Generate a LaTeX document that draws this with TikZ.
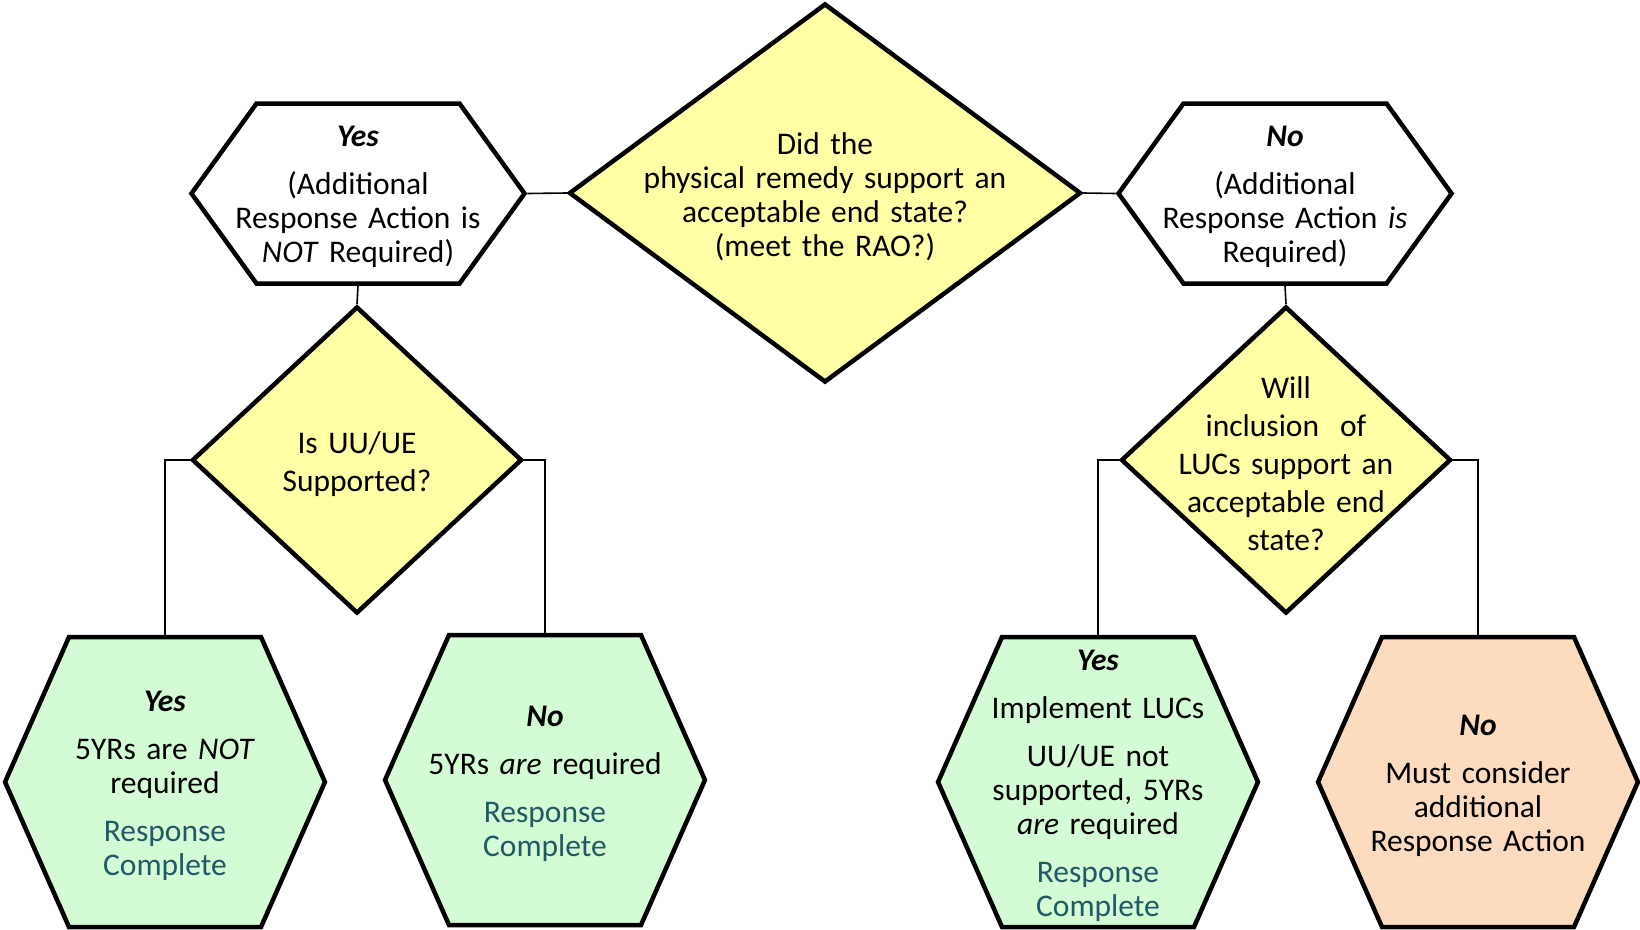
\documentclass[tikz,border=0pt]{standalone}
\usepackage{fontspec}
\setmainfont{Carlito}
\usetikzlibrary{shapes.geometric,shapes.symbols}

\definecolor{askyellow}{HTML}{FFFFA6}
\definecolor{donegreen}{HTML}{D4FCD4}
\definecolor{morepeach}{HTML}{FCDBBF}
\definecolor{donetext}{HTML}{215967}

\tikzset{
  decision/.style={diamond, draw, line width=4.5pt, fill=askyellow, align=center, text width=260pt, inner sep=-50pt},
  branch/.style={signal, signal to=east and west, draw, line width=4.5pt, fill=white, align=center,
    text width=260pt, inner xsep=-28.5pt, inner ysep=0pt, minimum height=180pt, signal pointer angle=108.3},
  outcome/.style={branch, fill=donegreen, minimum height=290pt, inner xsep=-34pt, signal pointer angle=132.4},
  link/.style={line width=1.6pt},
  txt/.style={font=\fontsize{31.5}{34}\selectfont}
}
\newcommand{\done}{\textcolor{donetext}{Response\\Complete}}
\newcommand{\headroom}[1][28pt]{\rule{0pt}{#1}}

\begin{document}
\begin{tikzpicture}[x=1pt,y=1pt,yscale=-1]
\useasboundingbox (0,0) rectangle (1640,929);

% top row
\node (rao) [decision, txt, text width=380pt, minimum width=512pt, minimum height=379pt, aspect=1.35] at (825,193)
  {\headroom[30pt]Did the\\physical remedy support an\\acceptable end state?\\(meet the RAO?)};
\node (notreq) [branch, txt] at (358,193.5)
  {\headroom\textbf{\textit{Yes}}\\[14pt](Additional\\Response Action is\\\textit{NOT} Required)};
\node (isreq) [branch, txt] at (1285,193.5)
  {\headroom\textbf{\textit{No}}\\[14pt](Additional\\Response Action \textit{is}\\Required)};

% middle row
\node (uuue) [decision, font=\fontsize{31.5}{37.7}\selectfont, minimum width=330pt, minimum height=307pt] at (357,460)
  {\headroom[30.5pt]Is UU/UE\\Supported?};
\node (lucs) [decision, font=\fontsize{31.5}{37.9}\selectfont, minimum width=330pt, minimum height=307pt] at (1286,460)
  {\headroom[28.8pt]Will\\inclusion~ of\\LUCs support an\\acceptable end\\state?};

% bottom row
\node (nofive) [outcome, txt] at (165,782)
  {\headroom[27.5pt]\textbf{\textit{Yes}}\\[14pt]5YRs are \textit{NOT}\\required\\[14pt]\done};
\node (five) [outcome, txt] at (545,780)
  {\headroom[27.5pt]\textbf{\textit{No}}\\[14pt]5YRs \textit{are} required\\[14pt]\done};
\node (withlucs) [outcome, txt] at (1098,782)
  {\headroom\textbf{\textit{Yes}}\\[14pt]Implement LUCs\\[14pt]UU/UE not\\supported, 5YRs\\\textit{are} required\\[14pt]\done};
\node (moreaction) [outcome, txt, fill=morepeach] at (1478,782)
  {\headroom\textbf{\textit{No}}\\[14pt]Must consider\\additional\\Response Action};

% connectors
\draw[link] (notreq.east) -- (rao.west);
\draw[link] (rao.east) -- (isreq.west);
\draw[link] (notreq.south) -- (uuue.north);
\draw[link] (isreq.south) -- (lucs.north);
\draw[link] (uuue.west) -| (nofive.north);
\draw[link] (uuue.east) -| (five.north);
\draw[link] (lucs.west) -| (withlucs.north);
\draw[link] (lucs.east) -| (moreaction.north);

\end{tikzpicture}
\end{document}
